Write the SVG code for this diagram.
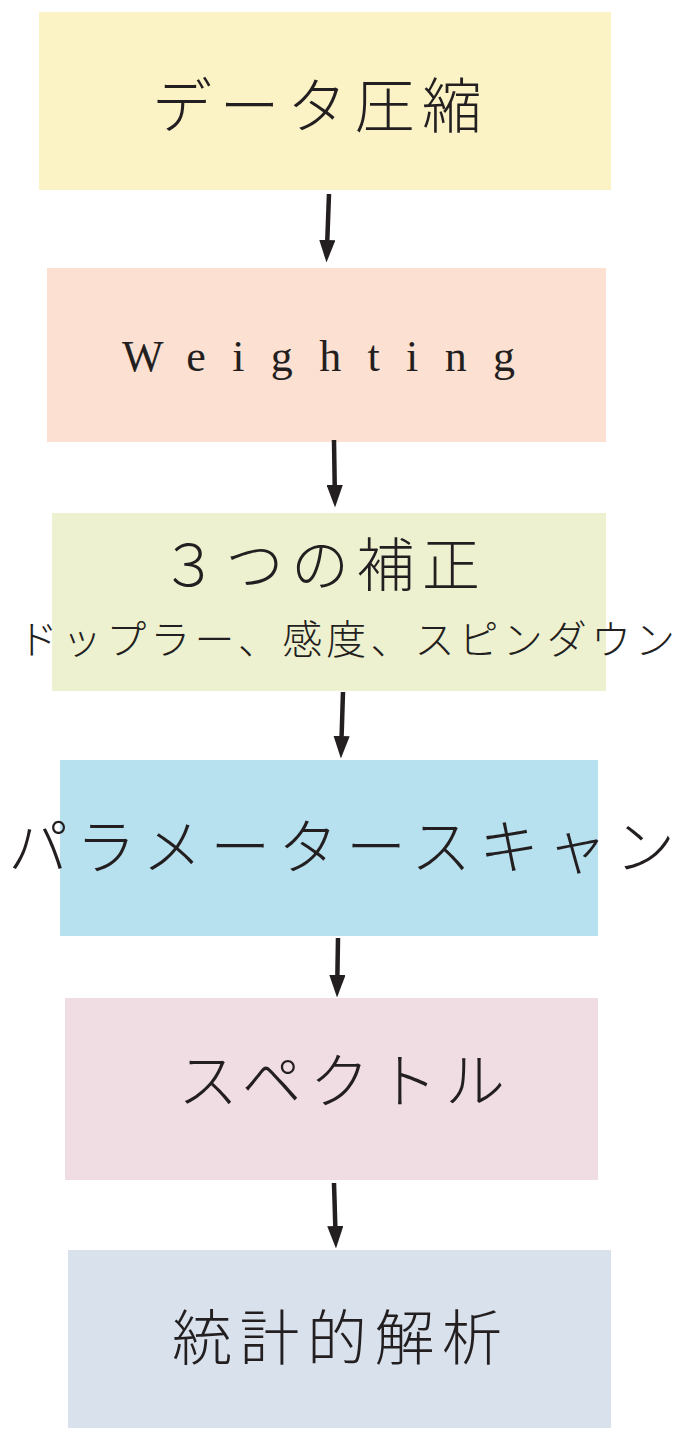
<svg xmlns="http://www.w3.org/2000/svg" width="681" height="1429" viewBox="0 0 681 1429">
<style>
.t{font-family:"Liberation Serif","Noto Sans CJK JP",serif;fill:#231f20;dominant-baseline:central;font-weight:300}
.a{stroke:#231f20;stroke-width:4.5;fill:none}
</style>
<defs>
<marker id="ah" markerWidth="5" markerHeight="3.6" refX="0" refY="1.8" orient="auto" markerUnits="strokeWidth">
<path d="M0,0 L5,1.8 L0,3.6 Z" fill="#231f20"/>
</marker>
</defs>
<rect width="681" height="1429" fill="#ffffff"/>
<g id="n1"><rect x="39" y="12" width="572" height="178" fill="#fbf3c6"/>
<text class="t" x="152" y="108" font-size="60" textLength="330" lengthAdjust="spacing">データ圧縮</text></g>
<g id="n2"><rect x="47" y="268" width="559" height="174" fill="#fce0d1"/>
<text class="t" x="122" y="356" font-size="44" textLength="393" lengthAdjust="spacing" style="font-family:'Liberation Serif',serif">Weighting</text></g>
<g id="n3"><rect x="52" y="513" width="554" height="178" fill="#eef1d0"/>
<text class="t" x="160" y="566" font-size="58" textLength="320" lengthAdjust="spacing">３つの補正</text>
<text class="t" x="18" y="640" font-size="40" textLength="657" lengthAdjust="spacing">ドップラー、感度、スピンダウン</text></g>
<g id="n4"><rect x="60" y="760" width="538" height="176" fill="#b8e1ef"/>
<text class="t" x="8" y="849" font-size="60" textLength="667" lengthAdjust="spacing">パラメータースキャン</text></g>
<g id="n5"><rect x="65" y="998" width="533" height="182" fill="#f0dde4"/>
<text class="t" x="178" y="1083" font-size="60" textLength="327" lengthAdjust="spacing">スペクトル</text></g>
<g id="n6"><rect x="68" y="1250" width="543" height="178" fill="#d8e1ec"/>
<text class="t" x="172" y="1340" font-size="60" textLength="330" lengthAdjust="spacing">統計的解析</text></g>
<g id="connectors">
<line class="a" x1="329" y1="194" x2="327.3" y2="240" marker-end="url(#ah)"/>
<line class="a" x1="334" y1="440" x2="334.7" y2="485" marker-end="url(#ah)"/>
<line class="a" x1="343" y1="692" x2="341.6" y2="736" marker-end="url(#ah)"/>
<line class="a" x1="338" y1="938" x2="337.4" y2="975" marker-end="url(#ah)"/>
<line class="a" x1="334" y1="1183" x2="335.3" y2="1226" marker-end="url(#ah)"/>
</g>
</svg>
